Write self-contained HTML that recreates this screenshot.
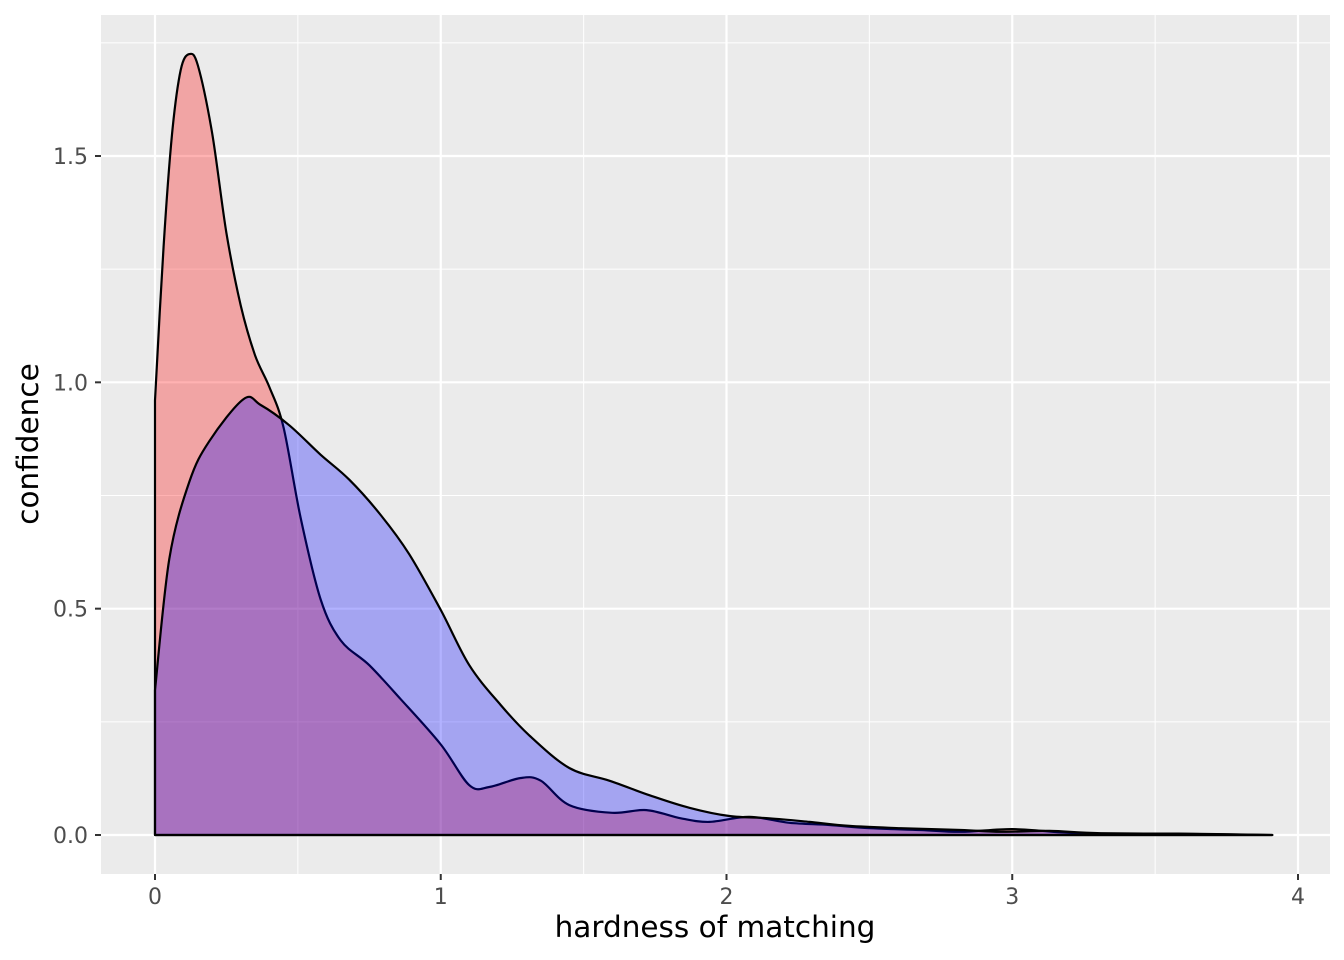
<!DOCTYPE html>
<html><head><meta charset="utf-8"><style>
body{margin:0;background:#fff;}
svg{display:block;font-family:"DejaVu Sans","Liberation Sans",sans-serif;}
</style></head><body>
<svg id="chart" width="1344" height="960"></svg>
<script>
const redX=[0,0.03,0.06,0.09,0.12,0.15,0.2,0.25,0.3,0.35,0.40,0.45,0.51,0.58,0.65,0.75,0.86,1.0,1.1,1.17,1.28,1.35,1.45,1.6,1.72,1.84,1.94,2.08,2.22,2.36,2.5,2.68,2.82,3.0,3.17,3.3,3.58,3.91];
const redY=[0.96,1.30,1.55,1.69,1.725,1.70,1.55,1.33,1.17,1.06,0.99,0.90,0.70,0.52,0.43,0.375,0.30,0.20,0.11,0.106,0.126,0.12,0.066,0.049,0.055,0.037,0.029,0.04,0.027,0.022,0.015,0.011,0.007,0.013,0.006,0.003,0.003,0];
const blueX=[0,0.05,0.12,0.19,0.31,0.37,0.47,0.58,0.68,0.79,0.89,1.0,1.1,1.21,1.31,1.45,1.59,1.73,1.87,2.01,2.15,2.29,2.43,2.61,2.82,2.96,3.13,3.31,3.66,3.91];
const blueY=[0.32,0.61,0.78,0.87,0.963,0.95,0.905,0.84,0.785,0.707,0.62,0.497,0.375,0.287,0.22,0.148,0.12,0.088,0.06,0.042,0.037,0.029,0.02,0.015,0.011,0.007,0.009,0.004,0.002,0];
const xTicks=[0,1,2,3,4];
const yTicks=[0,0.5,1.0,1.5];
const yTickLabels=["0.0","0.5","1.0","1.5"];

const L=101,R=1330,T=15,B=874;
const sx=v=>155+v*285.75;
const sy=v=>835-v*452.67;
const svg=document.getElementById('chart');
const NS='http://www.w3.org/2000/svg';
function mk(tag,attrs,parent){const e=document.createElementNS(NS,tag);for(const k in attrs)e.setAttribute(k,attrs[k]);(parent||svg).appendChild(e);return e;}

const bg=mk('rect',{x:L,y:T,width:R-L,height:B-T,fill:'#ebebeb'});


for(let v=0.5;v<4.2;v+=1){const g=mk('line',{x1:sx(v),x2:sx(v),y1:T,y2:B,stroke:'#fff','stroke-width':1});}
for(let v=0.25;v<1.8;v+=0.5){const g=mk('line',{x1:L,x2:R,y1:sy(v),y2:sy(v),stroke:'#fff','stroke-width':1});}
xTicks.forEach(v=>{const g=mk('line',{x1:sx(v),x2:sx(v),y1:T,y2:B,stroke:'#fff','stroke-width':2.2});
 const t=mk('line',{x1:sx(v),x2:sx(v),y1:B,y2:B+6,stroke:'#333','stroke-width':2});
 const l=mk('text',{x:sx(v),y:904,'text-anchor':'middle','font-size':22,fill:'#4d4d4d'});l.textContent=v;});
yTicks.forEach((v,i)=>{const g=mk('line',{x1:L,x2:R,y1:sy(v),y2:sy(v),stroke:'#fff','stroke-width':2.2});
 const t=mk('line',{x1:L-6,x2:L,y1:sy(v),y2:sy(v),stroke:'#333','stroke-width':2});
 const l=mk('text',{x:88,y:sy(v)+8,'text-anchor':'end','font-size':22,fill:'#4d4d4d'});l.textContent=yTickLabels[i];});

function area(xs,ys,fill,name){
 const P=xs.map((x,i)=>[sx(x),sy(ys[i])]);
 let d='M'+sx(xs[0])+','+sy(0)+' L'+P[0][0].toFixed(1)+','+P[0][1].toFixed(1);
 for(let i=0;i<P.length-1;i++){
  const p0=P[Math.max(0,i-1)],p1=P[i],p2=P[i+1],p3=P[Math.min(P.length-1,i+2)];
  const c1=[p1[0]+(p2[0]-p0[0])/6,p1[1]+(p2[1]-p0[1])/6];
  const c2=[p2[0]-(p3[0]-p1[0])/6,p2[1]-(p3[1]-p1[1])/6];
  d+=' C'+c1.map(v=>v.toFixed(1)).join(',')+' '+c2.map(v=>v.toFixed(1)).join(',')+' '+p2.map(v=>v.toFixed(1)).join(',');
 }
 d+=' L'+sx(xs[xs.length-1])+','+sy(0)+' Z';
 const p=mk('path',{d:d,fill:fill,'fill-opacity':0.3,stroke:'#000','stroke-width':2.2,'stroke-linejoin':'round'});
 
 
}
area(redX,redY,'#ff0000','density-red');
area(blueX,blueY,'#0000ff','density-blue');

const xt=mk('text',{x:715,y:937,'text-anchor':'middle','font-size':29.5,fill:'#000'});xt.textContent='hardness of matching';


const yt=mk('text',{x:0,y:0,'text-anchor':'middle','font-size':29.5,fill:'#000',transform:'translate(38,444) rotate(-90)'});yt.textContent='confidence';


</script>
</body></html>
